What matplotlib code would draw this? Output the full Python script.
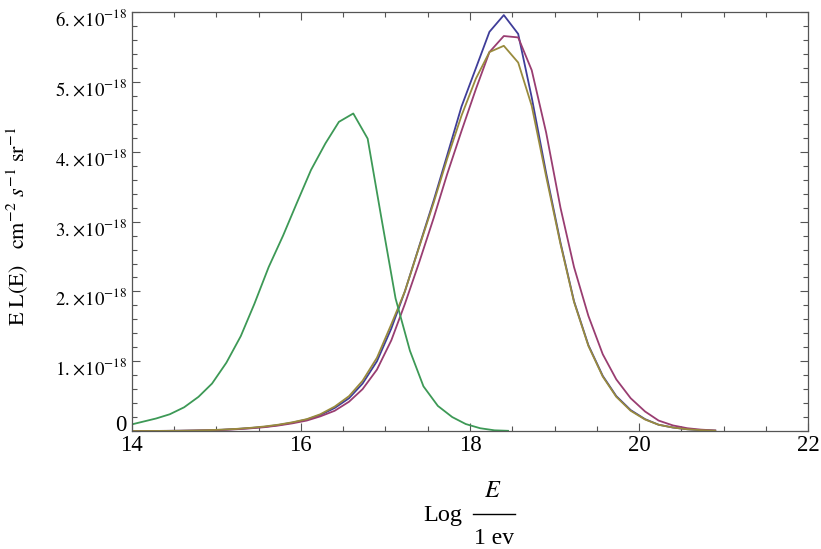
import matplotlib
matplotlib.use("Agg")
import matplotlib.pyplot as plt
from matplotlib.ticker import MultipleLocator, FuncFormatter
from matplotlib.lines import Line2D
from matplotlib.transforms import ScaledTranslation
import numpy as np

plt.rcParams['font.family'] = ['Liberation Serif', 'DejaVu Serif']
plt.rcParams['mathtext.fontset'] = 'stix'

# green curve (low energy), values in units of 1e-18
x_green = [13.95, 14.12, 14.29, 14.45, 14.62, 14.79, 14.95, 15.12, 15.29, 15.45,
           15.62, 15.79, 15.95, 16.12, 16.29, 16.45, 16.62, 16.79, 16.95, 17.12,
           17.29, 17.45, 17.62, 17.79, 17.95, 18.12, 18.29, 18.45]
y_green = [0.08, 0.13, 0.18, 0.24, 0.34, 0.49, 0.68, 0.98, 1.36, 1.82,
           2.35, 2.80, 3.26, 3.74, 4.12, 4.43, 4.55, 4.19, 3.07, 1.90,
           1.15, 0.64, 0.36, 0.20, 0.10, 0.04, 0.01, 0.003]

# blue, purple, gold curves share one grid
x_main = [13.90, 14.07, 14.23, 14.40, 14.57, 14.73, 14.90, 15.07, 15.23, 15.40,
          15.57, 15.73, 15.90, 16.07, 16.23, 16.40, 16.57, 16.73, 16.90, 17.07,
          17.23, 17.40, 17.57, 17.73, 17.90, 18.07, 18.23, 18.40, 18.57, 18.73,
          18.90, 19.07, 19.23, 19.40, 19.57, 19.73, 19.90, 20.07, 20.23, 20.40,
          20.57, 20.73, 20.90]
y_blue = [0.0, 0.0, 0.001, 0.002, 0.004, 0.007, 0.011, 0.018, 0.028, 0.042,
          0.06, 0.085, 0.12, 0.165, 0.23, 0.33, 0.47, 0.68, 1.00, 1.47,
          2.00, 2.65, 3.30, 3.95, 4.65, 5.20, 5.72, 5.96, 5.69, 4.78,
          3.70, 2.70, 1.86, 1.23, 0.79, 0.50, 0.30, 0.17, 0.09, 0.05,
          0.025, 0.012, 0.005]
y_purple = [0.0, 0.0, 0.001, 0.002, 0.003, 0.006, 0.01, 0.016, 0.025, 0.038,
            0.055, 0.078, 0.11, 0.15, 0.21, 0.29, 0.42, 0.60, 0.88, 1.30,
            1.82, 2.42, 3.05, 3.68, 4.30, 4.90, 5.43, 5.66, 5.64, 5.17,
            4.28, 3.20, 2.35, 1.65, 1.10, 0.74, 0.47, 0.28, 0.15, 0.08,
            0.04, 0.02, 0.008]
y_gold = [0.0, 0.0, 0.001, 0.002, 0.004, 0.007, 0.012, 0.02, 0.03, 0.045,
          0.065, 0.09, 0.125, 0.17, 0.24, 0.35, 0.50, 0.72, 1.05, 1.53,
          2.00, 2.64, 3.27, 3.90, 4.52, 5.05, 5.43, 5.52, 5.28, 4.66,
          3.65, 2.68, 1.85, 1.22, 0.78, 0.49, 0.29, 0.165, 0.09, 0.05,
          0.025, 0.012, 0.005]

c_blue = (0.2472, 0.24, 0.6)
c_purple = (0.6, 0.24, 0.4429)
c_gold = (0.6, 0.547, 0.24)
c_green = (0.24, 0.6, 0.337)

W, H = 821, 549
fig = plt.figure(figsize=(W / 100, H / 100), dpi=100)
ax = fig.add_axes([0.1604, 0.2149, 0.8241, 0.7627])

scale = 1e-18
ax.plot(x_main, np.array(y_blue) * scale, color=c_blue, lw=1.3)
ax.plot(x_main, np.array(y_purple) * scale, color=c_purple, lw=1.3)
ax.plot(x_main, np.array(y_gold) * scale, color=c_gold, lw=1.3)
ax.plot(x_green, np.array(y_green) * scale, color=c_green, lw=1.3)

ax.set_xlim(14, 22)
ax.set_ylim(0, 6e-18)

ax.xaxis.set_major_locator(MultipleLocator(2))
ax.xaxis.set_minor_locator(MultipleLocator(0.5))
ax.yaxis.set_major_locator(MultipleLocator(1e-18))
ax.yaxis.set_minor_locator(MultipleLocator(0.2e-18))


def ylab(v, pos):
    n = int(round(v / scale))
    if n == 0:
        return '0'
    return r'$%d.\!\times\!10^{-18}$' % n


ax.yaxis.set_major_formatter(FuncFormatter(ylab))

for s in ax.spines.values():
    s.set_color('#555555')
    s.set_linewidth(0.9)
ax.tick_params(which='both', direction='in', top=True, right=True, color='#555555', width=0.8)
ax.tick_params(which='major', length=6)
ax.tick_params(which='minor', length=3.5)
ax.tick_params(axis='both', colors='#555555', labelcolor='black')
ax.tick_params(axis='y', pad=3.5, labelsize=13.5)
ax.tick_params(axis='x', pad=3, labelsize=16.5)

# zero label: larger and sitting on the tick; scientific labels a bit lower
fig.canvas.draw()
shift = ScaledTranslation(0, -5 / 100, fig.dpi_scale_trans)
for t in ax.yaxis.get_major_ticks():
    if abs(t.get_loc()) < 1e-25:
        t.label1.set_fontsize(16.5)
        t.label1.set_verticalalignment('baseline')
    else:
        t.label1.set_transform(t.label1.get_transform() + shift)

ax.set_ylabel(r'$\mathrm{E\ L(E)}\quad\mathrm{cm}^{-2}\ s^{-1}\ \mathrm{sr}^{-1}$', fontsize=16)
ax.yaxis.set_label_coords(-0.149, 0.49)

# x label drawn as a stacked fraction: Log E / 1 ev
fig.text(443 / W, 1 - 521 / H, 'Log', ha='center', va='baseline', fontsize=17.5)
fig.text(493 / W, 1 - 497 / H, r'$E$', ha='center', va='baseline', fontsize=17.5)
fig.text(494 / W, 1 - 544 / H, '1 ev', ha='center', va='baseline', fontsize=17)
fig.add_artist(Line2D([473 / W, 515 / W], [1 - 514 / H, 1 - 514 / H],
                      transform=fig.transFigure, color='black', lw=1.0))

fig.savefig('out.png', dpi=100)
